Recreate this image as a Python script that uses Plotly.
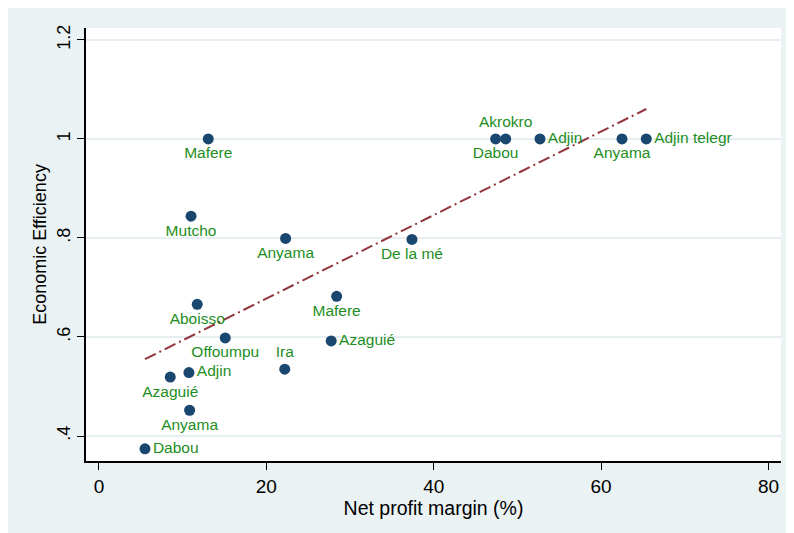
import numpy as np
import plotly.graph_objects as go

# Data
names = ["Mafere", "Mutcho", "Anyama", "Dabou", "Akrokro", "Adjin", "Anyama",
         "Adjin telegr", "De la mé", "Aboisso", "Offoumpu", "Adjin", "Azaguié",
         "Anyama", "Dabou", "Ira", "Mafere", "Azaguié"]
profit_margin = [13.06, 11.0, 22.3, 47.4, 48.6, 52.7, 62.5, 65.4, 37.4, 11.74,
                 15.09, 10.75, 8.52, 10.83, 5.5, 22.2, 28.4, 27.75]
efficiency = [1.0, 0.844, 0.799, 1.0, 1.0, 1.0, 1.0, 1.0, 0.797, 0.666,
              0.598, 0.528, 0.519, 0.452, 0.374, 0.535, 0.682, 0.592]
label_pos = ["bottom center", "bottom center", "bottom center", "bottom center",
             "top center", "middle right", "bottom center", "middle right",
             "bottom center", "bottom center", "bottom center", "middle right",
             "bottom center", "bottom center", "middle right", "top center",
             "bottom center", "middle right"]
x_ticks = [0, 20, 40, 60, 80]
y_ticks = [0.4, 0.6, 0.8, 1.0, 1.2]
y_ticktext = [".4", ".6", ".8", "1", "1.2"]

# Linear fit
xs = np.array(profit_margin)
ys = np.array(efficiency)
slope, intercept = np.polyfit(xs, ys, 1)
fit_x = np.array([xs.min(), xs.max()])
fit_y = intercept + slope * fit_x

FONT = "Arial, Liberation Sans, sans-serif"
BG = "#EAF2F3"

fig = go.Figure()
fig.add_trace(go.Scatter(
    x=fit_x, y=fit_y, mode="lines",
    line=dict(color="#90353B", width=2, dash="12px,4px,2px,4px"),
    hoverinfo="skip", showlegend=False,
))
fig.add_trace(go.Scatter(
    x=profit_margin, y=efficiency, mode="markers+text",
    text=names, textposition=label_pos,
    textfont=dict(family=FONT, size=15.5, color="#1E8E1E"),
    marker=dict(size=11, color="#1A476F"),
    cliponaxis=False, showlegend=False,
))

W, H = 794, 533
fig.update_layout(
    width=W, height=H,
    margin=dict(l=78, r=21, t=20, b=80, autoexpand=False),
    paper_bgcolor=BG, plot_bgcolor="white",
    font=dict(family=FONT, size=18, color="black"),
    xaxis=dict(
        range=[-1.55, 81.5], tickvals=x_ticks, ticks="outside", ticklen=7,
        tickwidth=1, tickcolor="black", showgrid=False, zeroline=False,
        showline=True, linecolor="black", linewidth=1.5,
        tickfont=dict(size=19),
        title=dict(text="Net profit margin (%)", font=dict(size=19.5), standoff=1),
    ),
    yaxis=dict(
        range=[0.3495, 1.224], tickvals=y_ticks, ticktext=y_ticktext,
        ticks="outside", ticklen=7, tickwidth=1, tickcolor="black",
        tickangle=-90, showgrid=True, gridcolor="#E6EEF1", gridwidth=2,
        zeroline=False, showline=True, linecolor="black", linewidth=1.5,
        tickfont=dict(size=18),
        title=dict(text="Economic Efficiency", font=dict(size=18), standoff=3),
    ),
)

fig.write_html("out.html")
